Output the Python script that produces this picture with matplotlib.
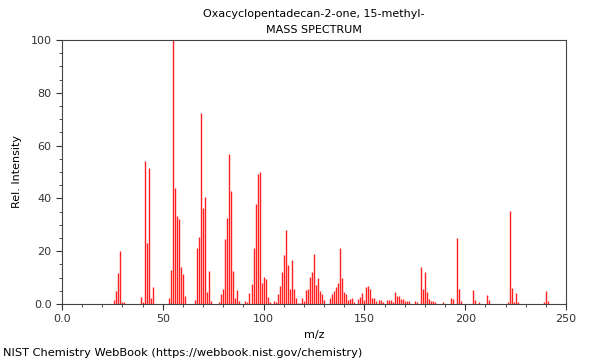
import matplotlib
matplotlib.use("Agg")
import matplotlib.pyplot as plt
from matplotlib.ticker import MultipleLocator, FixedFormatter, FixedLocator

# m/z values and relative intensities
mz = [26, 27, 28, 29, 30, 31,
      39, 40, 41, 42, 43, 44, 45,
      53, 54, 55, 56, 57, 58, 59, 60, 61,
      66, 67, 68, 69, 70, 71, 72, 73, 74,
      78, 79, 80, 81, 82, 83, 84, 85, 86, 87, 88,
      91, 92, 93, 94, 95, 96, 97, 98, 99, 100, 101, 102, 103,
      105, 106, 107, 108, 109, 110, 111, 112, 113, 114, 115, 116, 117, 118,
      119, 120, 121, 122, 123, 124, 125, 126, 127, 128, 129, 130,
      133, 134, 135, 136, 137, 138, 139, 140, 141, 142, 143, 144, 145,
      147, 148, 149, 150, 151, 152, 153, 154, 155, 156, 157, 158, 159,
      161, 162, 163, 164, 165, 166, 167, 168, 169, 170, 171, 172,
      175, 176, 178, 179, 180, 181, 182, 183, 184, 185,
      189, 193, 194, 196, 197, 198,
      204, 205, 207, 211, 212,
      221, 222, 223, 224, 225, 226,
      239, 240, 241]
intensity = [1.5, 5.0, 11.7, 20.0, 0.8, 0.8,
             2.6, 0.8, 54.2, 23.0, 51.6, 2.1, 6.4,
             2.4, 13.0, 100.0, 44.0, 33.5, 32.2, 14.0, 11.2, 2.9,
             1.6, 21.1, 25.4, 72.2, 36.5, 40.5, 4.4, 12.5, 1.3,
             0.9, 3.9, 5.7, 24.6, 32.7, 56.8, 42.8, 12.5, 2.1, 5.2, 1.1,
             1.1, 0.6, 4.2, 7.6, 21.4, 38.0, 49.2, 49.9, 8.1, 10.3, 9.4, 2.8, 0.8,
             1.0, 0.9, 3.8, 6.7, 12.0, 18.6, 27.9, 14.8, 5.8, 16.6, 5.5, 2.3, 0.5, 0.5,
             2.4, 1.0, 5.3, 5.8, 10.2, 12.1, 18.8, 7.3, 9.8, 4.8, 3.6, 1.6,
             2.3, 3.7, 4.9, 6.3, 8.1, 21.1, 9.7, 4.7, 3.8, 1.5, 1.9, 2.3, 0.9,
             1.9, 2.8, 4.3, 1.6, 6.4, 6.9, 5.7, 2.3, 2.4, 1.0, 1.7, 1.6, 0.9,
             1.7, 1.5, 1.5, 0.9, 4.4, 2.9, 2.9, 1.9, 1.9, 1.0, 1.0, 1.0,
             1.3, 0.8, 14.0, 5.6, 12.3, 4.7, 2.0, 1.3, 1.0, 0.8,
             0.8, 2.3, 1.8, 25.0, 5.6, 1.3,
             5.3, 1.5, 0.8, 3.5, 1.6,
             0.6, 35.2, 6.1, 0.8, 4.2, 0.8,
             0.6, 4.9, 1.0]

title = "Oxacyclopentadecan-2-one, 15-methyl-"
subtitle = "MASS SPECTRUM"
credit = "NIST Chemistry WebBook (https://webbook.nist.gov/chemistry)"

fig = plt.figure(figsize=(6, 3.6), dpi=100)
ax = fig.add_axes([62 / 600, 1 - 304 / 360, 504 / 600, 264 / 360])

# one stick per ion
ax.vlines(mz, 0, intensity, colors="#ff2020", linewidth=1.0)

ax.set_xlim(0, 250)
ax.set_ylim(0, 100)

ax.xaxis.set_major_locator(FixedLocator([0, 50, 100, 150, 200, 250]))
ax.xaxis.set_major_formatter(FixedFormatter(["0.0", "50", "100", "150", "200", "250"]))
ax.xaxis.set_minor_locator(MultipleLocator(10))
ax.yaxis.set_major_locator(FixedLocator([0, 20, 40, 60, 80, 100]))
ax.yaxis.set_major_formatter(FixedFormatter(["0.0", "20", "40", "60", "80", "100"]))
ax.yaxis.set_minor_locator(MultipleLocator(5))

ax.tick_params(which="both", direction="out", labelsize=8, colors="#333333")
ax.tick_params(which="major", length=4)
ax.tick_params(which="minor", length=2)
for s in ax.spines.values():
    s.set_color("#444444")
    s.set_linewidth(0.8)

ax.set_xlabel("m/z", fontsize=8, labelpad=4)
ax.set_ylabel("Rel. Intensity", fontsize=8, labelpad=6)

cx = 0.5 * (62 + 566) / 600
fig.text(cx, 1 - 14 / 360, title, ha="center", va="center", fontsize=8)
fig.text(cx, 1 - 30 / 360, subtitle, ha="center", va="center", fontsize=8)
fig.text(3 / 600, 1 - 353 / 360, credit, ha="left", va="center", fontsize=8.2)

fig.savefig("out.png", dpi=100)
